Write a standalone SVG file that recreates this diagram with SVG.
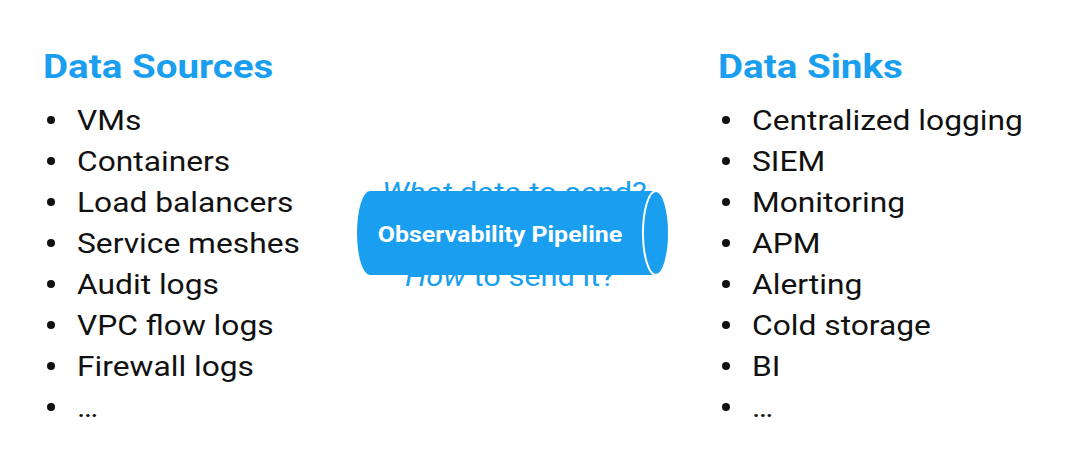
<svg xmlns="http://www.w3.org/2000/svg" width="1074" height="469" viewBox="0 0 1074 469">
<style>
.h{font-family:Roboto,"Liberation Sans",sans-serif;font-weight:bold;font-size:34px;fill:#1a9ff0}
.li{font-family:Roboto,"Liberation Sans",sans-serif;font-size:28px;fill:#111}
.q{font-family:Roboto,"Liberation Sans",sans-serif;font-size:28px;fill:#1a9ff0}
.b{fill:#111}
.pt{font-family:Roboto,"Liberation Sans",sans-serif;font-weight:bold;font-size:22px;fill:#fff}
</style>
<rect width="1074" height="469" fill="#fff"/>
<g id="sources">
<text class="h" transform="translate(43,78) scale(1.134,1)">Data Sources</text>
<g class="li" transform="translate(77,0) scale(1.134,1)">
<text x="0" y="130">VMs</text>
<text x="0" y="171">Containers</text>
<text x="0" y="212">Load balancers</text>
<text x="0" y="253">Service meshes</text>
<text x="0" y="294">Audit logs</text>
<text x="0" y="335">VPC flow logs</text>
<text x="0" y="376">Firewall logs</text>
<text x="0" y="417">…</text>
</g>
<g class="b">
<circle cx="51" cy="120" r="4"/><circle cx="51" cy="161" r="4"/><circle cx="51" cy="202" r="4"/><circle cx="51" cy="243" r="4"/>
<circle cx="51" cy="284" r="4"/><circle cx="51" cy="325" r="4"/><circle cx="51" cy="366" r="4"/><circle cx="51" cy="407" r="4"/>
</g>
</g>
<g id="sinks">
<text class="h" transform="translate(718,78) scale(1.134,1)">Data Sinks</text>
<g class="li" transform="translate(752,0) scale(1.134,1)">
<text x="0" y="130">Centralized logging</text>
<text x="0" y="171">SIEM</text>
<text x="0" y="212">Monitoring</text>
<text x="0" y="253">APM</text>
<text x="0" y="294">Alerting</text>
<text x="0" y="335">Cold storage</text>
<text x="0" y="376">BI</text>
<text x="0" y="417">…</text>
</g>
<g class="b">
<circle cx="726" cy="120" r="4"/><circle cx="726" cy="161" r="4"/><circle cx="726" cy="202" r="4"/><circle cx="726" cy="243" r="4"/>
<circle cx="726" cy="284" r="4"/><circle cx="726" cy="325" r="4"/><circle cx="726" cy="366" r="4"/><circle cx="726" cy="407" r="4"/>
</g>
</g>
<g id="questions">
<text class="q" transform="translate(382,202) scale(1.115,1)"><tspan font-style="italic">What</tspan> data to send?</text>
<text class="q" transform="translate(405,286) scale(1.1,1)"><tspan font-style="italic">How</tspan> to send it?</text>
</g>
<g id="pipeline">
<path d="M370 191 H656 V275 H370 A13 42 0 0 1 370 191 Z" fill="#1a9ff0"/>
<ellipse cx="656" cy="233" rx="13" ry="42" fill="#1a9ff0" stroke="#fff" stroke-width="2"/>
<text class="pt" text-anchor="middle" transform="translate(500,242) scale(1.134,1)">Observability Pipeline</text>
</g>
<g id="connectors"/>
</svg>
